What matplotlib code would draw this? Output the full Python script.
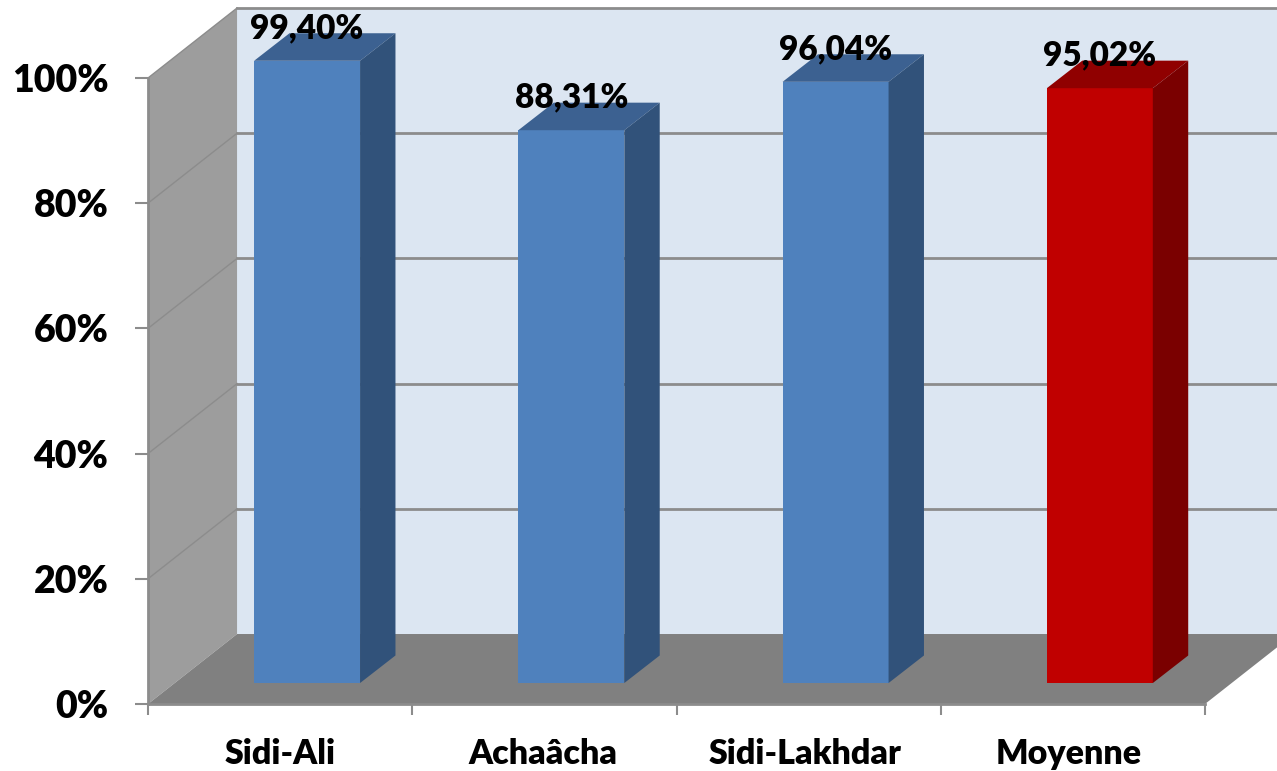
import numpy as np
import matplotlib
matplotlib.use('Agg')
import matplotlib.pyplot as plt
from matplotlib.patches import Polygon

plt.rcParams['font.family'] = ['Lato', 'DejaVu Sans']

categories = ['Sidi-Ali', 'Achaâcha', 'Sidi-Lakhdar', 'Moyenne']
values = [99.40, 88.31, 96.04, 95.02]
value_labels = ['99,40%', '88,31%', '96,04%', '95,02%']
y_ticks = [0, 20, 40, 60, 80, 100]
y_tick_labels = ['0%', '20%', '40%', '60%', '80%', '100%']

front_colors = ['#4f81bd', '#4f81bd', '#4f81bd', '#c00000']
top_colors = ['#3c6191', '#3c6191', '#3c6191', '#900000']
side_colors = ['#31527a', '#31527a', '#31527a', '#7a0000']

# fake 3d depth, in data units
wall_dx, wall_dy = 0.337, 11.18
bar_x0, bar_y0 = 0.102, 3.35
bar_dx, bar_dy = 0.134, 4.4
bar_width = 0.401

W, H = 1277, 771
fig = plt.figure(figsize=(W / 100, H / 100), dpi=100)
ax = fig.add_axes([148 / W, (H - 704) / H, (1205 - 148) / W, (704 - 78) / H])
ax.set_xlim(-0.5, 3.5)
ax.set_ylim(0, 100)
ax.patch.set_visible(False)

grid_color = '#8c8c8c'
x0, x1 = -0.5, 3.5

# back wall, left wall, floor
ax.add_patch(Polygon([(x0 + wall_dx, wall_dy), (x1 + wall_dx, wall_dy),
                      (x1 + wall_dx, 100 + wall_dy), (x0 + wall_dx, 100 + wall_dy)],
                     fc='#dce6f2', ec='none', clip_on=False, zorder=1))
ax.add_patch(Polygon([(x0, 0), (x0 + wall_dx, wall_dy), (x0 + wall_dx, 100 + wall_dy), (x0, 100)],
                     fc='#9d9d9d', ec='none', clip_on=False, zorder=1))
ax.add_patch(Polygon([(x0, 0), (x1, 0), (x1 + wall_dx, wall_dy), (x0 + wall_dx, wall_dy)],
                     fc='#808080', ec='none', clip_on=False, zorder=1.5))

for t in y_ticks[1:]:
    ax.plot([x0, x0 + wall_dx], [t, t + wall_dy], color=grid_color, lw=1, clip_on=False, zorder=1.2)
    ax.plot([x0 + wall_dx, x1 + wall_dx], [t + wall_dy, t + wall_dy], color=grid_color, lw=2,
            clip_on=False, zorder=1.2)

# bars
xs = np.arange(len(categories))
left = xs + bar_x0 - bar_width / 2
right = left + bar_width
ax.bar(xs + bar_x0, values, bar_width, bottom=bar_y0, color=front_colors, zorder=3, clip_on=False)

for i in range(len(categories)):
    top = values[i] + bar_y0
    ax.add_patch(Polygon([(left[i], top), (right[i], top), (right[i] + bar_dx, top + bar_dy),
                          (left[i] + bar_dx, top + bar_dy)],
                         fc=top_colors[i], ec='none', clip_on=False, zorder=3))
    ax.add_patch(Polygon([(right[i], bar_y0), (right[i] + bar_dx, bar_y0 + bar_dy),
                          (right[i] + bar_dx, top + bar_dy), (right[i], top)],
                         fc=side_colors[i], ec='none', clip_on=False, zorder=3))
    ax.text(xs[i] + bar_x0, top + 5.2, value_labels[i], ha='center', va='center',
            fontsize=24, fontweight='heavy', color='black', clip_on=False, zorder=5)

for s in ['top', 'right']:
    ax.spines[s].set_visible(False)
for s in ['left', 'bottom']:
    ax.spines[s].set_color(grid_color)
    ax.spines[s].set_linewidth(2)
    ax.spines[s].set_zorder(2)

ax.set_yticks(y_ticks)
ax.set_yticklabels(y_tick_labels, fontsize=27, fontweight='heavy')
ax.set_xticks(np.arange(-0.5, 4.0, 1.0))
ax.set_xticklabels([])
ax.tick_params(axis='y', length=9.5, width=1.5, color=grid_color, pad=19)
ax.tick_params(axis='x', length=8, width=1.5, color=grid_color)

label_x_nudge = [0, -1, -4, -4]
for i, c in enumerate(categories):
    ax.annotate(c, (xs[i], 0), xytext=(label_x_nudge[i], -50), xycoords='data', textcoords='offset pixels',
                ha='center', va='center', fontsize=24.5, fontweight='heavy', annotation_clip=False)

fig.savefig('out.png', dpi=100)
